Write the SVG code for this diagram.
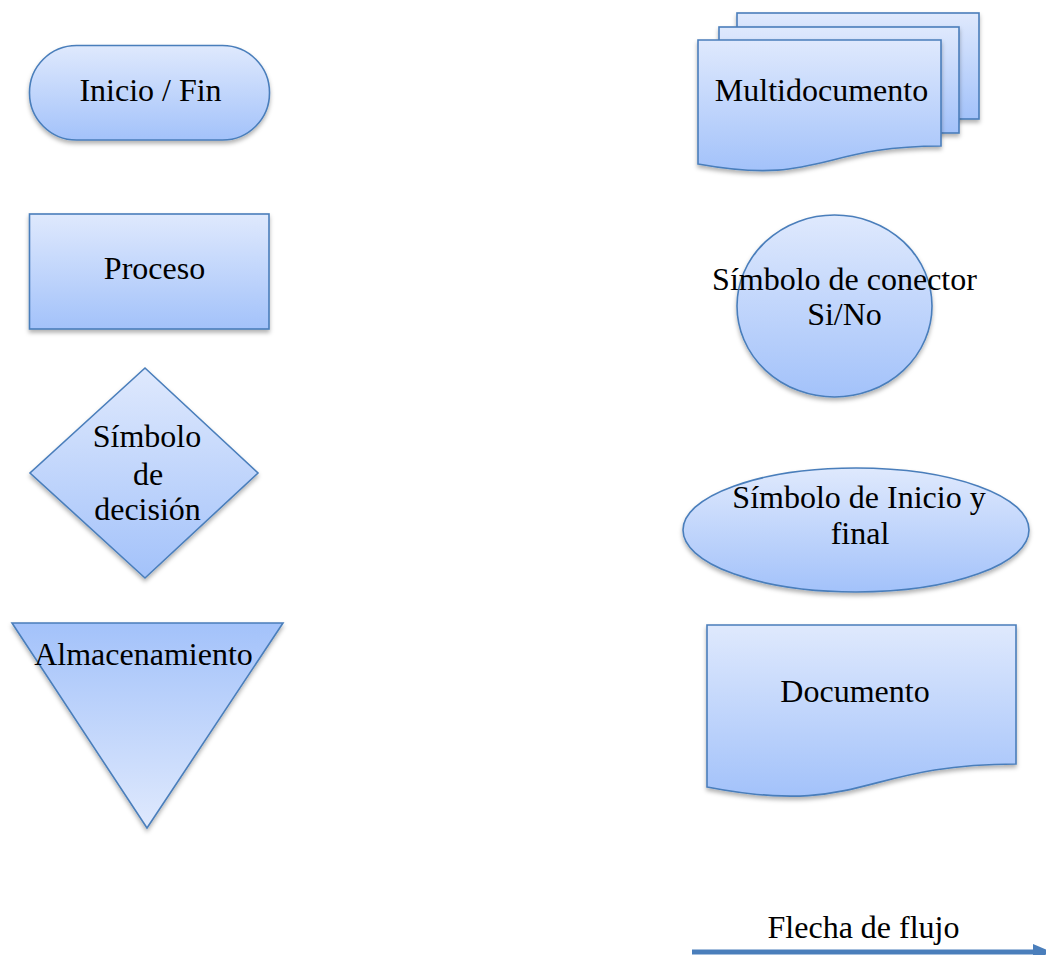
<svg xmlns="http://www.w3.org/2000/svg" width="1046" height="955" viewBox="0 0 1046 955">
<defs>
<linearGradient id="g" x1="0" y1="0" x2="0" y2="1">
<stop offset="0" stop-color="#dfe9fd"/>
<stop offset="1" stop-color="#a3c2fa"/>
</linearGradient>
<linearGradient id="gr" x1="0" y1="1" x2="0" y2="0">
<stop offset="0" stop-color="#dfe9fd"/>
<stop offset="1" stop-color="#a3c2fa"/>
</linearGradient>
<filter id="sh" x="-10%" y="-10%" width="120%" height="130%">
<feDropShadow dx="0" dy="3" stdDeviation="2.2" flood-color="#000" flood-opacity="0.3"/>
</filter>
</defs>
<style>
.s{fill:url(#g);stroke:#4a7ebb;stroke-width:1.6;filter:url(#sh)}
.sr{fill:url(#gr);stroke:#4a7ebb;stroke-width:1.6;filter:url(#sh)}
text{font-family:"Liberation Serif","Times New Roman",serif;font-size:32px;fill:#000;text-anchor:middle}
</style>
<rect width="1046" height="955" fill="#fff"/>

<g id="inicio-fin">
<rect class="s" x="29.5" y="45.5" width="240" height="94.5" rx="47" ry="47"/>
<text x="150.5" y="101">Inicio / Fin</text>
</g>

<g id="proceso">
<rect class="s" x="29.5" y="214" width="239.5" height="115"/>
<text x="154.5" y="279">Proceso</text>
</g>

<g id="decision">
<polygon class="s" points="145,368 258,473 145,578 30,473"/>
<text x="147" y="447">Símbolo</text>
<text x="148" y="485">de</text>
<text x="147.5" y="520">decisión</text>
</g>

<g id="almacenamiento">
<polygon class="sr" points="12,623 283,623 147,828"/>
<text x="143.5" y="665">Almacenamiento</text>
</g>

<g id="multidocumento">
<rect class="s" x="737" y="13" width="242" height="106"/>
<rect class="s" x="719" y="27" width="240" height="106"/>
<path class="s" d="M698,40 H941 V146 C819.5,146 819.5,186 698,164 Z"/>
<text x="821.5" y="101">Multidocumento</text>
</g>

<g id="conector">
<ellipse class="s" cx="834.5" cy="306" rx="97.5" ry="91"/>
<text x="844.5" y="290">Símbolo de conector</text>
<text x="844.5" y="325">Si/No</text>
</g>

<g id="inicio-final">
<ellipse class="s" cx="856" cy="530" rx="173" ry="62"/>
<text x="859" y="508">Símbolo de Inicio y</text>
<text x="860" y="544">final</text>
</g>

<g id="documento">
<path class="s" d="M707,625 H1016 V764 C861.5,764 861.5,817 707,787 Z"/>
<text x="855" y="702">Documento</text>
</g>

<g id="connectors">
<line x1="692" y1="952" x2="1036" y2="952" stroke="#4a7ebb" stroke-width="5"/>
<polygon points="1033,944 1052,952 1033,960" fill="#4a7ebb"/>
</g>
<g id="flecha-label">
<text x="863.5" y="938">Flecha de flujo</text>
</g>
</svg>
